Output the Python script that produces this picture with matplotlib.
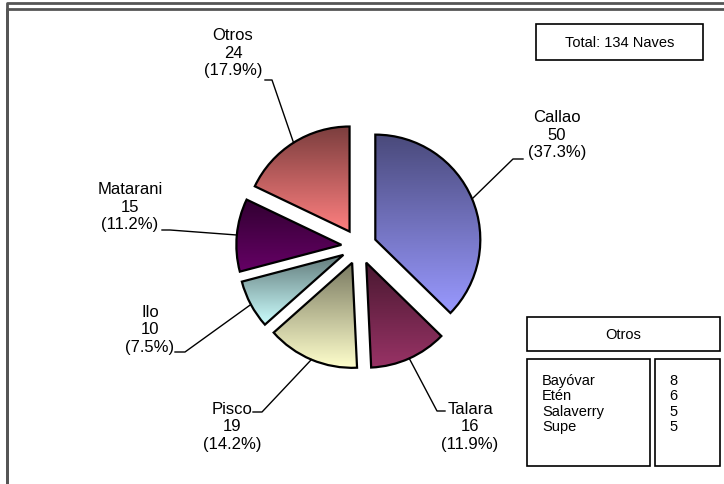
import numpy as np
import matplotlib
matplotlib.use("Agg")
import matplotlib.pyplot as plt
from matplotlib.colors import to_rgb

plt.rcParams['font.family'] = ['Liberation Sans', 'DejaVu Sans']

# data
ports = ['Callao', 'Talara', 'Pisco', 'Ilo', 'Matarani', 'Otros']
ships = [50, 16, 19, 10, 15, 24]
colors = ['#9999FF', '#993366', '#FFFFCC', '#CCFFFF', '#660066', '#FF8080']
otros_names = ['Bayóvar', 'Etén', 'Salaverry', 'Supe']
otros_ships = [8, 6, 5, 5]
total = sum(ships)

W, H = 724, 485
fig = plt.figure(figsize=(W / 100, H / 100), dpi=100)
ax = fig.add_axes([0, 0, 1, 1])


def py(y):
    # pixel row -> data y
    return H - y


R = 105
cx, cy = 359, py(247.5)
wedges, _ = ax.pie(ships, explode=[17.7] * len(ships), radius=R, center=(cx, cy),
                   startangle=90, counterclock=False,
                   wedgeprops=dict(fc='none', ec='black', lw=1.6))

# vertical gradient fill, dark on top, full colour at the bottom
grad = np.linspace(0, 1, 256)[:, None]
for w, c in zip(wedges, colors):
    base = np.array(to_rgb(c))
    img = (0.48 + 0.52 * grad)[:, :, None] * base[None, None, :]
    img = np.repeat(img, 2, axis=1)
    bb = w.get_path().get_extents(w.get_patch_transform())
    im = ax.imshow(img, extent=(bb.x0, bb.x1, bb.y0, bb.y1), origin='upper',
                   aspect='auto', interpolation='bilinear', zorder=0.5)
    im.set_clip_path(w)
    w.set_zorder(1)

# labels with leader lines: text centre, text-side end, elbow
label_pos = {
    'Callao': ((557, 135), (523, 160), (513, 160)),
    'Talara': ((470, 427), (445, 412), (437, 412)),
    'Pisco': ((232, 427), (253, 413), (262, 413)),
    'Ilo': ((150, 330), (175, 353), (185, 353)),
    'Matarani': ((130, 207), (162, 231), (170, 231)),
    'Otros': ((233, 53), (265, 81), (272, 81)),
}
for w, name, v in zip(wedges, ports, ships):
    (tx, ty), (ex, ey), (kx, ky) = label_pos[name]
    ax.text(tx, py(ty), f"{name}\n{v}\n({v / total * 100:.1f}%)", ha='center',
            va='center', fontsize=12, linespacing=1.18)
    th = np.deg2rad((w.theta1 + w.theta2) / 2)
    wx = w.center[0] + w.r * np.cos(th)
    wy = w.center[1] + w.r * np.sin(th)
    ax.plot([ex, kx, wx], [py(ey), py(ky), wy], color='black', lw=1.0, zorder=2)

# frames
ax.plot([7, 7, W], [0, py(3.5), py(3.5)], color='#555555', lw=2, solid_capstyle='butt')
ax.plot([7, 7, W], [0, py(10), py(10)], color='#555555', lw=2, solid_capstyle='butt')


def box(x0, y0, x1, y1):
    ax.add_patch(plt.Rectangle((x0, py(y1)), x1 - x0, y1 - y0, fc='white',
                               ec='black', lw=1.2, zorder=3))


box(536, 25, 703, 61)
ax.text(620, py(43), f"Total: {total} Naves", ha='center', va='center',
        fontsize=10.5, zorder=4)

box(527, 318, 720, 352)
ax.text(623, py(335), 'Otros', ha='center', va='center', fontsize=10.5, zorder=4)
box(527, 360, 650, 467)
box(655, 360, 720, 467)
ax.text(542, py(374), "\n".join(otros_names), ha='left', va='top',
        fontsize=10.5, linespacing=1.12, zorder=4)
ax.text(669, py(374), "\n".join(str(v) for v in otros_ships), ha='left', va='top',
        fontsize=10.5, linespacing=1.12, zorder=4)

ax.set_xlim(0, W)
ax.set_ylim(0, H)
ax.axis('off')
fig.savefig('out.png', dpi=100)
